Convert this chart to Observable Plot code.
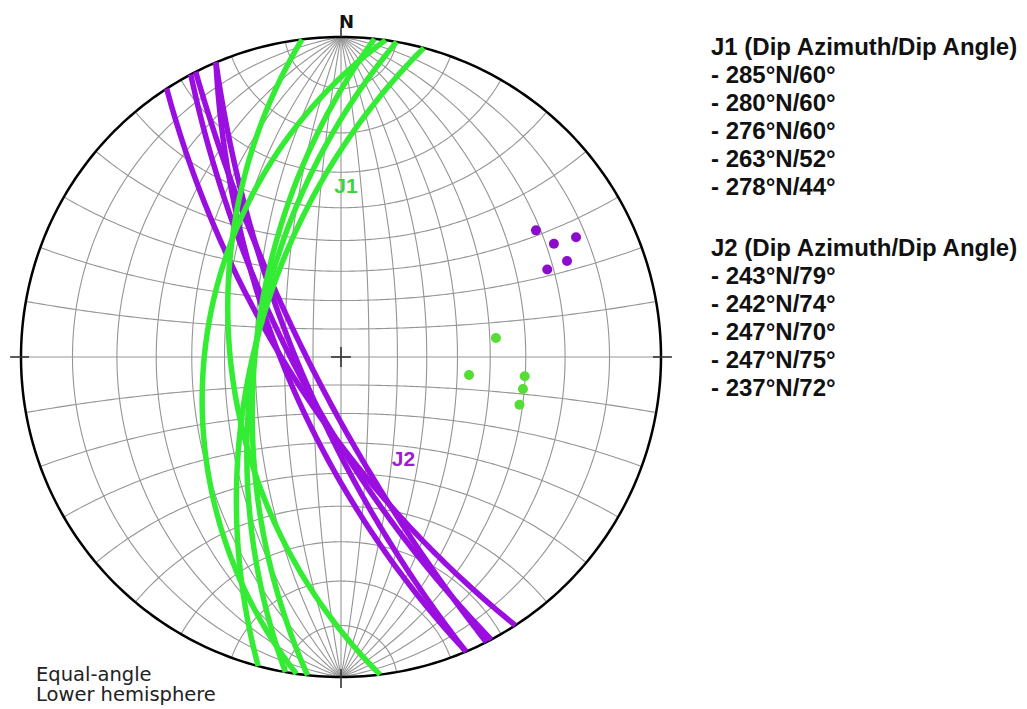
<!DOCTYPE html>
<html>
<head>
<meta charset="utf-8">
<script src="https://cdn.jsdelivr.net/npm/d3@7"></script>
<script src="https://cdn.jsdelivr.net/npm/@observablehq/plot@0.6"></script>
<style>
  html, body { margin: 0; padding: 0; background: #fff; }
  #wrap { position: relative; width: 1027px; height: 709px; overflow: hidden; }
  #chart { position: absolute; left: 0; top: 0; }
  .legend { position: absolute; left: 711px; font-family: "Liberation Sans", Arial, sans-serif; font-weight: bold; font-size: 24px; line-height: 28px; color: #111; white-space: pre; }
  .note { position: absolute; left: 36px; top: 665px; font-family: "DejaVu Sans", sans-serif; font-size: 19.5px; line-height: 20px; color: #222; white-space: pre; }
</style>
</head>
<body>
<div id="wrap">
  <div id="chart"></div>
  <div class="legend" id="leg1" style="top:33px"></div>
  <div class="legend" id="leg2" style="top:234px"></div>
  <div class="note">Equal-angle
Lower hemisphere</div>
</div>
<script>
// ---- Data (dip azimuth / dip angle, degrees) ----
const setNames = ["J1", "J2"];
const j1DipAzimuth = [285, 280, 276, 263, 278];
const j1DipAngle   = [60, 60, 60, 52, 44];
const j2DipAzimuth = [243, 242, 247, 247, 237];
const j2DipAngle   = [79, 74, 70, 75, 72];
const legendTitle = "(Dip Azimuth/Dip Angle)";

// ---- Geometry helpers (equal-angle, lower hemisphere) ----
const rad = Math.PI / 180;
function vecFromLine(trend, plunge) {
  return [Math.cos(plunge * rad) * Math.cos(trend * rad),   // north
          Math.cos(plunge * rad) * Math.sin(trend * rad),   // east
          Math.sin(plunge * rad)];                          // down
}
function project([n, e, d]) { return {x: e / (1 + d), y: n / (1 + d)}; }

function greatCircle(dipAz, dip, id) {
  const s = vecFromLine(dipAz - 90, 0);
  const dv = vecFromLine(dipAz, dip);
  const pts = [];
  for (let t = 0; t <= 180; t += 1) {
    const c = Math.cos(t * rad), sn = Math.sin(t * rad);
    const v = [c * s[0] + sn * dv[0], c * s[1] + sn * dv[1], Math.max(0, c * s[2] + sn * dv[2])];
    pts.push({...project(v), id});
  }
  return pts;
}
function pole(dipAz, dip) { return project(vecFromLine(dipAz + 180, 90 - dip)); }

// Wulff net (10° grid)
const net = [];
for (let lam = -80; lam <= 80; lam += 10) {
  for (let phi = -90; phi <= 90; phi += 1) {
    const v = [Math.sin(phi * rad), Math.cos(phi * rad) * Math.sin(lam * rad), Math.cos(phi * rad) * Math.cos(lam * rad)];
    net.push({...project(v), id: "m" + lam});
  }
}
for (let phi = -80; phi <= 80; phi += 10) {
  for (let lam = -90; lam <= 90; lam += 1) {
    const v = [Math.sin(phi * rad), Math.cos(phi * rad) * Math.sin(lam * rad), Math.cos(phi * rad) * Math.cos(lam * rad)];
    net.push({...project(v), id: "p" + phi});
  }
}
const primitive = d3.range(0, 361, 1).map(t => project(vecFromLine(t, 0)));

const j1Circles = j1DipAzimuth.flatMap((a, i) => greatCircle(a, j1DipAngle[i], "J1-" + i));
const j2Circles = j2DipAzimuth.flatMap((a, i) => greatCircle(a, j2DipAngle[i], "J2-" + i));
const j1Poles = j1DipAzimuth.map((a, i) => pole(a, j1DipAngle[i]));
const j2Poles = j2DipAzimuth.map((a, i) => pole(a, j2DipAngle[i]));

const ticks = [
  {x1: -1.034, y1: 0, x2: -0.975, y2: 0},
  {x1: 0.975, y1: 0, x2: 1.034, y2: 0},
  {x1: 0, y1: -0.975, x2: 0, y2: -1.034},
  {x1: 0, y1: 1, x2: 0, y2: 1.03},
  {x1: -0.031, y1: 0, x2: 0.031, y2: 0},
  {x1: 0, y1: -0.031, x2: 0, y2: 0.031}
];

const GREEN = "#34ec34", PURPLE = "#9a0ee0";
const R = 320, cx = 340.5, cy = 356.5;

const chart = Plot.plot({
  width: 1027, height: 709, margin: 0,
  x: {domain: [-1, 1], range: [cx - R, cx + R], axis: null},
  y: {domain: [-1, 1], range: [cy + R, cy - R], axis: null},
  style: {fontFamily: "'Liberation Sans', Arial, sans-serif", background: "transparent", overflow: "visible"},
  marks: [
    Plot.line(net, {x: "x", y: "y", z: "id", stroke: "#959595", strokeWidth: 1.1}),
    Plot.line(primitive, {x: "x", y: "y", stroke: "#000", strokeWidth: 2.5}),
    Plot.link(ticks, {x1: "x1", y1: "y1", x2: "x2", y2: "y2", stroke: "#333", strokeWidth: 1.6}),
    Plot.line(j2Circles, {x: "x", y: "y", z: "id", stroke: PURPLE, strokeWidth: 5.5, strokeLinecap: "butt"}),
    Plot.line(j1Circles, {x: "x", y: "y", z: "id", stroke: GREEN, strokeWidth: 5.5, strokeLinecap: "butt"}),
    Plot.dot(j2Poles, {x: "x", y: "y", r: 5, fill: "#8d0ccc"}),
    Plot.dot(j1Poles, {x: "x", y: "y", r: 5, fill: "#55dd33"}),
    Plot.text([{x: 0.0156, y: 0.535, t: setNames[0]}], {x: "x", y: "y", text: "t", fill: "#3fd23f", fontSize: 21, fontWeight: "bold"}),
    Plot.text([{x: 0.195, y: -0.320, t: setNames[1]}], {x: "x", y: "y", text: "t", fill: "#9a1fd4", fontSize: 21, fontWeight: "bold"}),
    Plot.text([{x: 0, y: 1, t: "N"}], {x: "x", y: "y", text: "t", fill: "#111", fontSize: 18, fontWeight: "bold", textAnchor: "start", lineAnchor: "bottom", dx: -2, dy: -9.5, fontFamily: "DejaVu Sans"})
  ]
});
document.getElementById("chart").appendChild(chart);

document.getElementById("leg1").textContent =
  [setNames[0] + " " + legendTitle, ...j1DipAzimuth.map((a, i) => `- ${a}°N/${j1DipAngle[i]}°`)].join("\n");
document.getElementById("leg2").textContent =
  [setNames[1] + " " + legendTitle, ...j2DipAzimuth.map((a, i) => `- ${a}°N/${j2DipAngle[i]}°`)].join("\n");
</script>
</body>
</html>
